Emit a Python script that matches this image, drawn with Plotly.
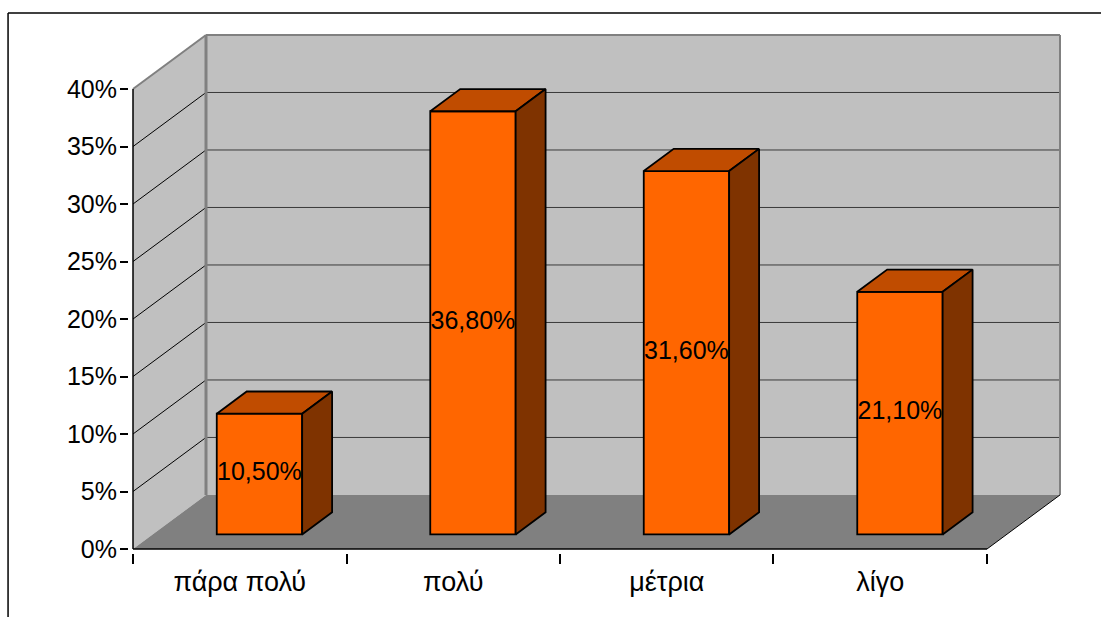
import plotly.graph_objects as go

# ---- data ----
categories = ["πάρα πολύ", "πολύ", "μέτρια", "λίγο"]
values = [10.5, 36.8, 31.6, 21.1]          # percent
y_ticks = [0, 5, 10, 15, 20, 25, 30, 35, 40]
y_tick_labels = [f"{t}%" for t in y_ticks]

# ---- 3D projection settings (category units / percent units) ----
Y_MAX = 40
DEPTH_X = 0.342          # horizontal shift of the back wall
DEPTH_Y = 4.7            # vertical shift of the back wall
BAR_FRONT = 0.27         # depth fraction of the bar front face
BAR_BACK = 0.68          # depth fraction of the bar back face
BAR_W = 0.40

# ---- pixel layout ----
W, H = 1101, 617
SX, SY = 213.6, 11.5     # pixels per category / per percent
ORIGIN = (133, 549)      # pixel position of (0, 0%)
PAD = 4                  # pixels of slack round the plot area

n = len(categories)
x_lo = -PAD / SX
x_hi = n + DEPTH_X + PAD / SX
y_lo = -PAD / SY
y_hi = Y_MAX + DEPTH_Y + PAD / SY
m_l = ORIGIN[0] - PAD
m_b = H - ORIGIN[1] - PAD
plot_w = (x_hi - x_lo) * SX
plot_h = (y_hi - y_lo) * SY
m_r = W - m_l - plot_w
m_t = H - m_b - plot_h

FONT = "Liberation Sans, Arial, sans-serif"
WALL = "#C0C0C0"
FLOOR = "#808080"
EDGE = "#808080"
FRONT = "#FF6600"
TOP = "#C04C00"
SIDE = "#7F3300"


def proj(x, y, d):
    """Project a point at depth fraction d onto the 2D axes."""
    return x + d * DEPTH_X, y + d * DEPTH_Y


def path(points):
    return "M " + " L ".join(f"{x},{y}" for x, y in points) + " Z"


shapes = []
# walls and floor
shapes.append(dict(type="path", xref="x", yref="y", layer="below",
                   path=path([proj(0, 0, 1), proj(n, 0, 1), proj(n, Y_MAX, 1), proj(0, Y_MAX, 1)]),
                   fillcolor=WALL, line=dict(width=0)))
shapes.append(dict(type="path", xref="x", yref="y", layer="below",
                   path=path([proj(0, 0, 0), proj(0, 0, 1), proj(0, Y_MAX, 1), proj(0, Y_MAX, 0)]),
                   fillcolor=WALL, line=dict(width=0)))
shapes.append(dict(type="path", xref="x", yref="y", layer="below",
                   path=path([proj(0, 0, 0), proj(n, 0, 0), proj(n, 0, 1), proj(0, 0, 1)]),
                   fillcolor=FLOOR, line=dict(width=0)))


def seg(p, q, color, width):
    shapes.append(dict(type="line", xref="x", yref="y", layer="below",
                       x0=p[0], y0=p[1], x1=q[0], y1=q[1],
                       line=dict(color=color, width=width)))


# gridlines
for t in y_ticks[1:-1]:
    seg(proj(0, t, 1), proj(n, t, 1), "#3A3A3A", 1)
    seg(proj(0, t, 0), proj(0, t, 1), "#000000", 1)
# wall edges
seg(proj(0, Y_MAX, 0), proj(0, Y_MAX, 1), EDGE, 2)
seg(proj(0, Y_MAX, 1), proj(n, Y_MAX, 1), EDGE, 2)
seg(proj(0, 0, 1), proj(0, Y_MAX, 1), EDGE, 3)
seg(proj(n, 0, 1), proj(n, Y_MAX, 1), EDGE, 2)
seg(proj(n, 0, 0), proj(n, 0, 1), "#000000", 1)
# axis lines
seg((0, 0), (0, Y_MAX), "#000000", 1.5)
seg((0, 0), (n, 0), "#000000", 1.5)

# outer frame
def px_to_paper_x(px):
    return (px - m_l) / plot_w


def px_to_paper_y(py):
    return (H - m_b - py) / plot_h


shapes.append(dict(type="line", xref="paper", yref="paper",
                   x0=px_to_paper_x(8), y0=px_to_paper_y(13),
                   x1=px_to_paper_x(W + 5), y1=px_to_paper_y(13),
                   line=dict(color="#000000", width=1.5)))
shapes.append(dict(type="line", xref="paper", yref="paper",
                   x0=px_to_paper_x(8), y0=px_to_paper_y(13),
                   x1=px_to_paper_x(8), y1=px_to_paper_y(H + 5),
                   line=dict(color="#000000", width=1.5)))

fig = go.Figure()

# front faces of the bars
centers = [i + 0.5 for i in range(n)]
front_x = [proj(c, 0, BAR_FRONT)[0] for c in centers]
base = BAR_FRONT * DEPTH_Y
fig.add_trace(go.Bar(x=front_x, y=values, base=base, width=BAR_W,
                     marker=dict(color=FRONT, line=dict(color="#000000", width=1.8)),
                     hoverinfo="skip", showlegend=False))

# top and side faces
for c, v in zip(centers, values):
    xl, xr = c - BAR_W / 2, c + BAR_W / 2
    top = [proj(xl, v, BAR_FRONT), proj(xr, v, BAR_FRONT), proj(xr, v, BAR_BACK),
           proj(xl, v, BAR_BACK), proj(xl, v, BAR_FRONT)]
    side = [proj(xr, 0, BAR_FRONT), proj(xr, v, BAR_FRONT), proj(xr, v, BAR_BACK),
            proj(xr, 0, BAR_BACK), proj(xr, 0, BAR_FRONT)]
    for pts, col in ((top, TOP), (side, SIDE)):
        fig.add_trace(go.Scatter(x=[p[0] for p in pts], y=[p[1] for p in pts],
                                 mode="lines", fill="toself", fillcolor=col,
                                 line=dict(color="#000000", width=1.8),
                                 hoverinfo="skip", showlegend=False))

# value labels on the front faces
labels = [f"{v:.2f}".replace(".", ",") + "%" for v in values]
fig.add_trace(go.Scatter(x=front_x, y=[base + v / 2 for v in values],
                         mode="text", text=labels,
                         textfont=dict(family=FONT, size=25, color="#000000"),
                         hoverinfo="skip", showlegend=False))

fig.update_layout(
    width=W, height=H,
    margin=dict(l=m_l, r=m_r, t=m_t, b=m_b, pad=0),
    paper_bgcolor="#FFFFFF", plot_bgcolor="rgba(0,0,0,0)",
    shapes=shapes, showlegend=False,
    xaxis=dict(range=[x_lo, x_hi], showgrid=False, zeroline=False, showline=False,
               tickvals=centers, ticktext=categories, ticks="",
               ticklabelstandoff=10,
               tickfont=dict(family=FONT, size=27, color="#000000"),
               minor=dict(tickvals=list(range(n + 1)), ticks="outside", ticklen=10,
                          tickwidth=1.5, tickcolor="#000000", showgrid=False),
               fixedrange=True),
    yaxis=dict(range=[y_lo, y_hi], showgrid=False, zeroline=False, showline=False,
               tickvals=y_ticks, ticktext=y_tick_labels, ticks="outside", ticklen=8,
               tickwidth=1.5, tickcolor="#000000", ticklabelstandoff=-2,
               tickfont=dict(family=FONT, size=25, color="#000000"),
               fixedrange=True),
)

fig.write_html("out.html")
